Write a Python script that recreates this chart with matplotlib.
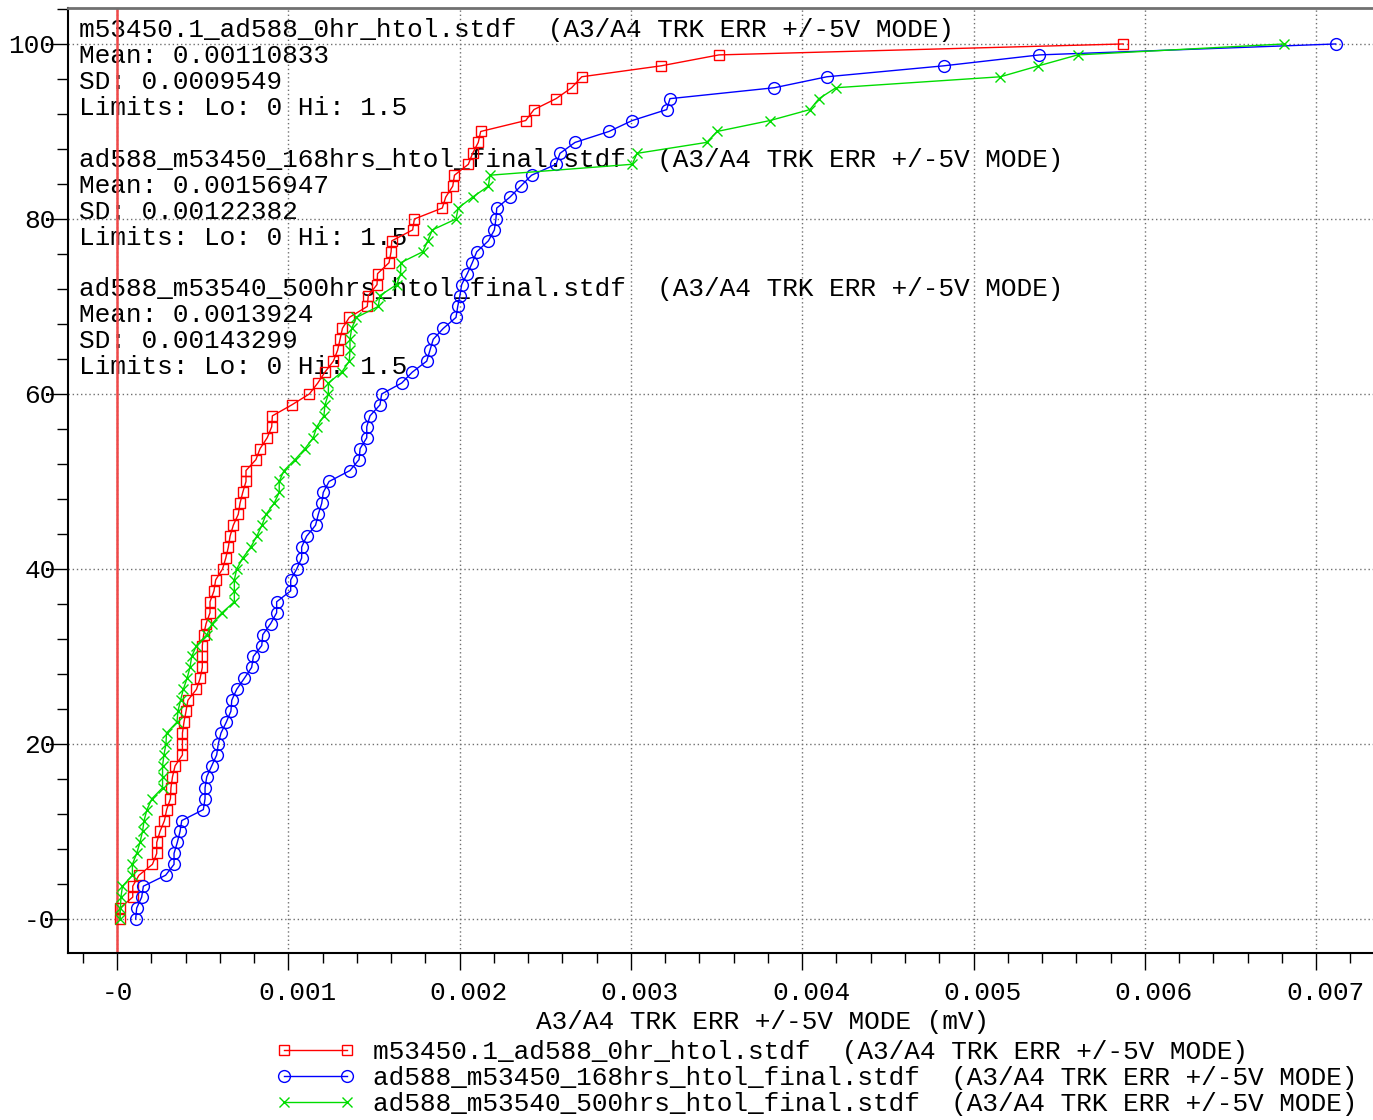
import numpy as np
import matplotlib
matplotlib.use('Agg')
import matplotlib.pyplot as plt
import matplotlib.transforms as mtransforms
from matplotlib.ticker import MultipleLocator, FixedLocator, FixedFormatter

plt.rcParams['font.family'] = ['Liberation Mono', 'DejaVu Sans Mono']
FS = 18.8

red_x = np.array([
    0.018, 0.018, 0.092, 0.092, 0.128, 0.207, 0.232, 0.232, 0.251, 0.277,
    0.290, 0.312, 0.315, 0.324, 0.339, 0.382, 0.382, 0.382, 0.391, 0.403,
    0.414, 0.464, 0.485, 0.498, 0.498, 0.498, 0.506, 0.520, 0.543, 0.543,
    0.566, 0.576, 0.616, 0.635, 0.650, 0.660, 0.679, 0.708, 0.718, 0.734,
    0.753, 0.753, 0.811, 0.835, 0.877, 0.903, 0.907, 1.020, 1.123, 1.172,
    1.214, 1.263, 1.288, 1.302, 1.316, 1.356, 1.461, 1.467, 1.518, 1.521,
    1.588, 1.600, 1.604, 1.726, 1.736, 1.899, 1.919, 1.960, 1.970, 2.051,
    2.076, 2.109, 2.123, 2.386, 2.434, 2.563, 2.654, 2.713, 3.176, 3.514,
    5.873]) * 1e-3

blue_x = np.array([
    0.109, 0.115, 0.144, 0.154, 0.284, 0.333, 0.333, 0.352, 0.368, 0.378,
    0.504, 0.514, 0.514, 0.524, 0.553, 0.582, 0.591, 0.607, 0.638, 0.665,
    0.670, 0.699, 0.743, 0.786, 0.796, 0.845, 0.851, 0.897, 0.932, 0.932,
    1.014, 1.014, 1.049, 1.078, 1.078, 1.107, 1.159, 1.175, 1.195, 1.204,
    1.238, 1.360, 1.413, 1.419, 1.458, 1.458, 1.477, 1.535, 1.545, 1.662,
    1.724, 1.808, 1.827, 1.846, 1.905, 1.979, 1.989, 2.002, 2.012, 2.045,
    2.074, 2.100, 2.168, 2.203, 2.212, 2.217, 2.294, 2.357, 2.420, 2.563,
    2.586, 2.674, 2.872, 3.008, 3.209, 3.228, 3.838, 4.144, 4.825, 5.385,
    7.114]) * 1e-3

green_x = np.array([
    0.018, 0.020, 0.023, 0.032, 0.090, 0.090, 0.115, 0.134, 0.149, 0.158,
    0.175, 0.204, 0.266, 0.266, 0.266, 0.274, 0.286, 0.289, 0.350, 0.356,
    0.371, 0.387, 0.409, 0.426, 0.436, 0.464, 0.525, 0.555, 0.613, 0.685,
    0.685, 0.685, 0.699, 0.734, 0.781, 0.816, 0.846, 0.870, 0.917, 0.947,
    0.947, 0.975, 1.039, 1.097, 1.146, 1.166, 1.208, 1.214, 1.234, 1.234,
    1.312, 1.356, 1.360, 1.360, 1.370, 1.398, 1.525, 1.535, 1.633, 1.656,
    1.656, 1.785, 1.814, 1.841, 1.979, 1.992, 2.076, 2.168, 2.177, 3.008,
    3.036, 3.442, 3.503, 3.812, 4.045, 4.098, 4.197, 5.157, 5.379, 5.608,
    6.814]) * 1e-3

names = ['m53450.1_ad588_0hr_htol.stdf',
         'ad588_m53450_168hrs_htol_final.stdf',
         'ad588_m53540_500hrs_htol_final.stdf']
means = ['0.00110833', '0.00156947', '0.0013924']
sds = ['0.0009549', '0.00122382', '0.00143299']
param = '(A3/A4 TRK ERR +/-5V MODE)'
lo_limit = 0
hi_limit = 1.5

x_ticks = [0, 0.001, 0.002, 0.003, 0.004, 0.005, 0.006, 0.007]
x_ticklabels = ['-0', '0.001', '0.002', '0.003', '0.004', '0.005', '0.006', '0.007']
y_ticks = [0, 20, 40, 60, 80, 100]
y_ticklabels = ['-0', '20', '40', '60', '80', '100']

W, H = 1373, 1120
fig = plt.figure(figsize=(W / 100, H / 100), dpi=100)
ax = fig.add_axes([68 / W, 1 - 953 / H, (W - 68) / W, (953 - 8) / H])

series = [(red_x, '#ff0000', 's', 6.5), (blue_x, '#0000ff', 'o', 8.5), (green_x, '#00dd00', 'x', 7)]
for (xs, col, mk, ms), nm in zip(series, names):
    xs = np.sort(xs)
    pct = np.arange(len(xs)) / (len(xs) - 1) * 100  # cumulative percent
    ax.plot(xs, pct, color=col, lw=1, marker=mk, ms=ms, mfc='none', mec=col, mew=1,
            label=nm + '  ' + param, zorder=3)

# low limit line
ax.axvline(lo_limit, color='#f04848', lw=1.8, zorder=2)

ax.set_xlim(-0.000286, 0.007332)
ax.set_ylim(-3.886, 104.11)

ax.xaxis.set_major_locator(FixedLocator(x_ticks))
ax.xaxis.set_major_formatter(FixedFormatter(x_ticklabels))
ax.xaxis.set_minor_locator(MultipleLocator(0.0002))
ax.yaxis.set_major_locator(FixedLocator(y_ticks))
ax.yaxis.set_major_formatter(FixedFormatter(y_ticklabels))
ax.yaxis.set_minor_locator(MultipleLocator(4))

ax.tick_params(axis='x', which='major', direction='out', length=12, width=1, pad=8, labelsize=FS)
ax.tick_params(axis='x', which='minor', direction='out', length=7, width=1)
ax.tick_params(axis='y', which='major', direction='out', length=14, width=1, pad=-5, labelsize=FS)
ax.tick_params(axis='y', which='minor', direction='out', length=8, width=1)

# the original tool draws the x labels a little right of their ticks
shift = mtransforms.ScaledTranslation(0.09, 0, fig.dpi_scale_trans)
for lab in ax.get_xticklabels()[1:]:
    lab.set_transform(lab.get_transform() + shift)

ax.grid(True, which='major', color='#707070', lw=1, linestyle=(0, (1, 2)), zorder=1)

ax.spines['right'].set_visible(False)
ax.spines['top'].set_color('#707070')
ax.spines['top'].set_linewidth(2)
ax.spines['left'].set_linewidth(1.5)
ax.spines['bottom'].set_linewidth(1.5)

# statistics text blocks
tx = 79 / W
starts = [30, 160, 289]
for nm, mn, sd, y0 in zip(names, means, sds, starts):
    lines = [nm + '  ' + param, 'Mean: ' + mn, 'SD: ' + sd,
             'Limits: Lo: %g Hi: %g' % (lo_limit, hi_limit)]
    for k, s in enumerate(lines):
        ax.text(tx, 1 - (y0 + 26 * k) / H, s, transform=fig.transFigure,
                fontsize=FS, ha='left', va='center', zorder=1)

fig.text(763 / W, 1 - 1022 / H, 'A3/A4 TRK ERR +/-5V MODE (mV)', fontsize=FS,
         ha='center', va='center')

fig.legend(loc='upper left', bbox_to_anchor=(276 / W, 1 - 1040 / H), frameon=False,
           fontsize=FS, numpoints=2, handlelength=3.0, handletextpad=0.72,
           labelspacing=0.08, borderpad=0, borderaxespad=0)

fig.savefig('out.png', dpi=100)
